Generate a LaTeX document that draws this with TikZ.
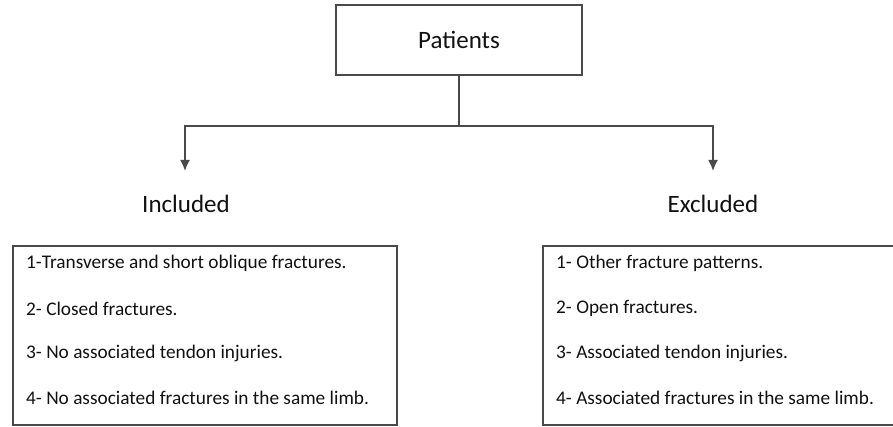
\documentclass[tikz,border=0pt]{standalone}
\usepackage{fontspec}
\setmainfont{Carlito}
\usepackage{xcolor}
\usetikzlibrary{arrows.meta, positioning}
\definecolor{lineclr}{HTML}{4A4A4A}
\definecolor{txtclr}{HTML}{111111}

\begin{document}
\begin{tikzpicture}[
    x=1pt, y=-1pt,
    frame/.style={rectangle, draw=lineclr, line width=1.7pt, minimum width=#1, inner sep=0pt},
    head/.style={font=\fontsize{25}{28}\selectfont, text=txtclr},
    item/.style={anchor=west, font=\fontsize{19.3}{22}\selectfont, text=txtclr, inner sep=0pt},
    conn/.style={draw=lineclr, line width=1.7pt},
    arr/.style={conn, -{Latex[length=11pt, width=10pt]}},
]
\useasboundingbox (0,0) rectangle (893,427);

% top box
\node[frame=246pt, minimum height=70pt, head] (patients) at (459,40) {Patients};

% branches
\coordinate (split) at (459,126);
\coordinate (inclarr) at (185,171);
\coordinate (exclarr) at (713,171);
\draw[conn] (patients.south) -- (split);
\draw[arr] (split) -| (inclarr);
\draw[arr] (split) -| (exclarr);

\node[head] (incl) at (186,204) {Included};
\node[head] (excl) at (713,204) {Excluded};

% criteria boxes
\node[frame=384pt, minimum height=179pt] (inclbox) at (205,335.5) {};
\node[frame=354pt, minimum height=179pt] (exclbox) at (720,335.5) {};

\foreach \i/\t in {1/{1-Transverse and short oblique fractures.}, 2/{2- Closed fractures.}, 3/{3- No associated tendon injuries.}, 4/{4- No associated fractures in the same limb.}} {
    \node[item] (incl\i) at (26,219+\i*44.8) {\t};
}
\foreach \i/\t in {1/{1- Other fracture patterns.}, 2/{2- Open fractures.}, 3/{3- Associated tendon injuries.}, 4/{4- Associated fractures in the same limb.}} {
    \node[item] (excl\i) at (556,219+\i*44.8) {\t};
}

\end{tikzpicture}
\end{document}
